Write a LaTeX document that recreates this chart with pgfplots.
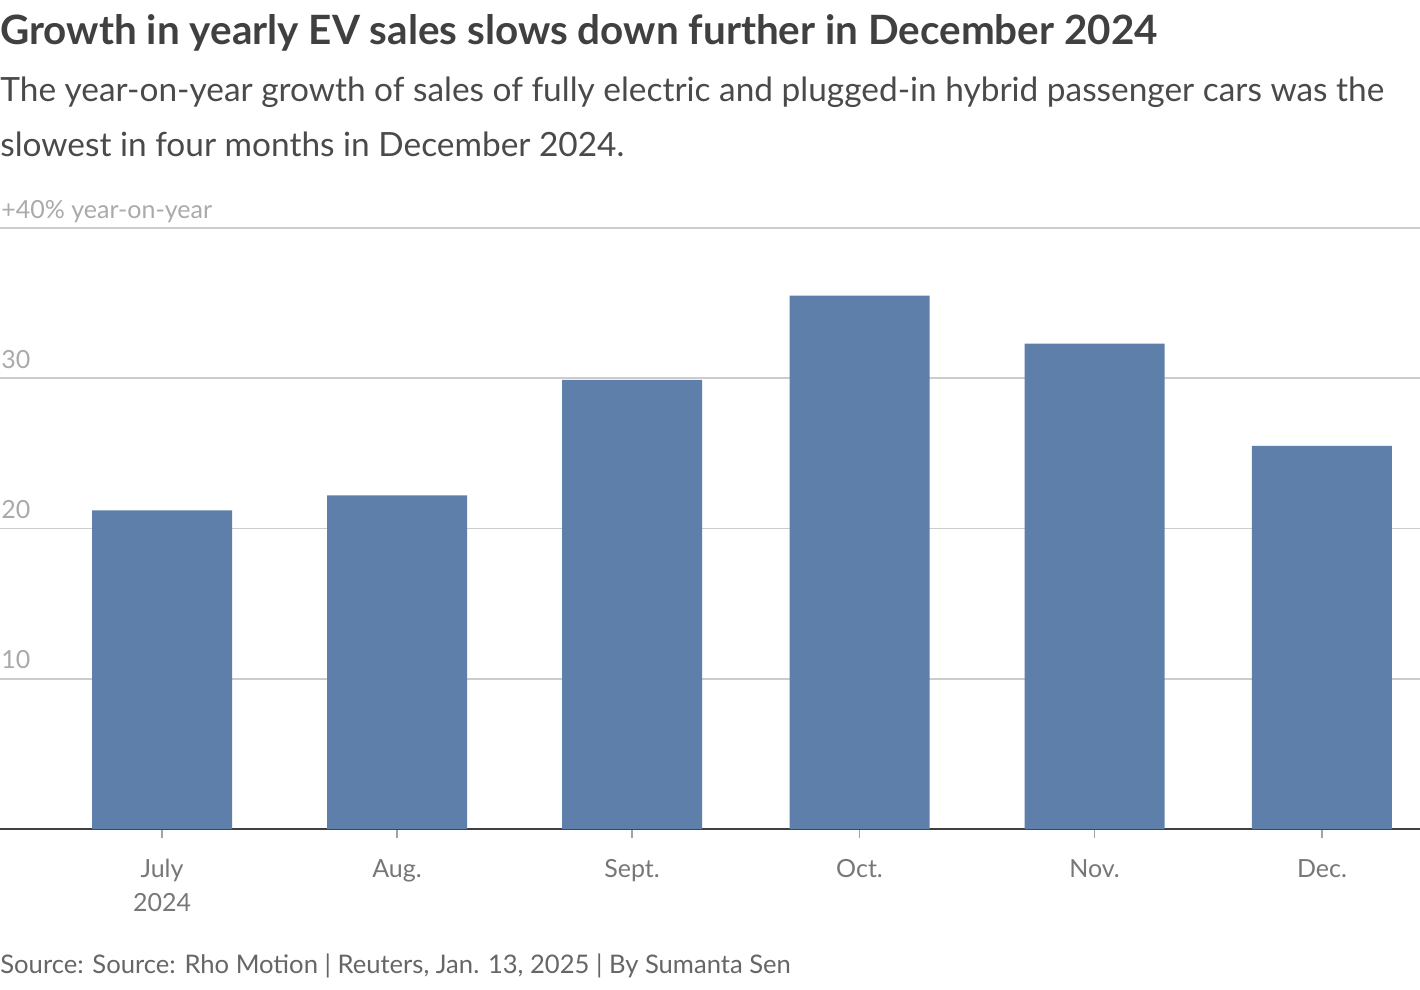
\documentclass[border=0pt]{standalone}
\usepackage{fontspec}
\setmainfont{Lato}
\usepackage{pgfplots}
\pgfplotsset{compat=1.18}
\definecolor{barc}{HTML}{5E7FA9}
\definecolor{titlec}{HTML}{404040}
\definecolor{subc}{HTML}{4A4A4A}
\definecolor{ytc}{HTML}{AAAAAA}
\definecolor{xtc}{HTML}{777777}
\definecolor{srcc}{HTML}{666666}
\definecolor{gridc}{HTML}{CCCCCC}
\definecolor{axisc}{HTML}{404040}
\begin{document}
\begin{tikzpicture}
\path[use as bounding box] (0pt,0pt) rectangle (710pt,-495pt);
\node[anchor=base west, inner sep=0, text=titlec, font=\fontsize{20.2}{24}\selectfont\bfseries] at (0pt,-22.5pt) {Growth in yearly EV sales slows down further in December 2024};
\node[anchor=base west, inner sep=0, text=subc, font=\fontsize{16.7}{20}\selectfont] at (0pt,-51pt) {The year-on-year growth of sales of fully electric and plugged-in hybrid passenger cars was the};
\node[anchor=base west, inner sep=0, text=subc, font=\fontsize{16.7}{20}\selectfont] at (0pt,-78.5pt) {slowest in four months in December 2024.};
\node[anchor=base west, inner sep=0, text=srcc, font=\fontsize{12.8}{15}\selectfont] at (0pt,-486.5pt) {Source: Source: Rho Motion | Reuters, Jan. 13, 2025 | By Sumanta Sen};
\begin{axis}[
  at={(0pt,-414.5pt)}, anchor=south west,
  scale only axis, width=710pt, height=300.5pt,
  xmin=-21.37, xmax=165.93, ymin=0, ymax=40,
  axis x line*=bottom, axis y line*=left,
  x axis line style={draw=axisc, line width=1.2pt, -},
  y axis line style={draw=none},
  ytick={10,20,30,40},
  yticklabels={10,20,30,{+40\% year-on-year}},
  ytick style={draw=none},
  ymajorgrids, grid style={draw=gridc, line width=0.8pt},
  yticklabel style={anchor=base west, inner sep=0pt, xshift=5pt, yshift=5pt, text=ytc, font=\fontsize{12.5}{15}\selectfont},
  xtick={0,31,62,92,123,153},
  xticklabels={{July\\2024},Aug.,Sept.,Oct.,Nov.,Dec.},
  xticklabel style={anchor=north, inner sep=0pt, yshift=-10.5pt, align=center, text=xtc, font=\fontsize{12.5}{17}\selectfont},
  xtick style={draw=gridc!80!black, line width=0.8pt},
  tick align=outside, major tick length=4.5pt,
  clip=false,
]
\addplot[ybar, bar width=70pt, bar shift=0pt, fill=barc, draw=none] coordinates {(0,21.2) (31,22.2) (62,29.9) (92,35.5) (123,32.3) (153,25.5)};
\end{axis}
\end{tikzpicture}
\end{document}
